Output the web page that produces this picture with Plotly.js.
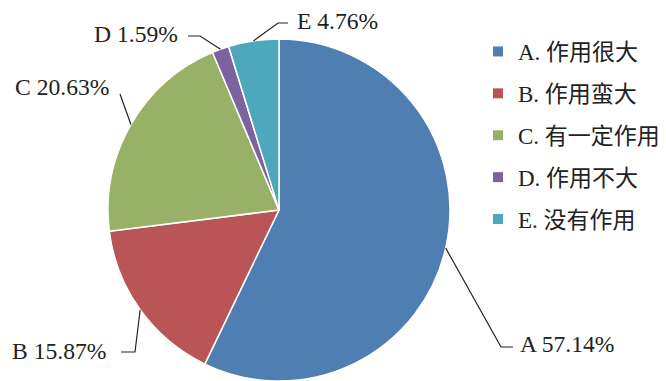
<!DOCTYPE html>
<html><head><meta charset="utf-8">
<script src="https://cdn.plot.ly/plotly-3.0.1.min.js"></script>
<style>html,body{margin:0;padding:0;background:#fff}#chart{width:666px;height:381px}</style>
</head><body><div id="chart"></div>
<script>
// ---- data ----
const categories = ['A', 'B', 'C', 'D', 'E'];
const legendLabels = ['A. 作用很大', 'B. 作用蛮大', 'C. 有一定作用', 'D. 作用不大', 'E. 没有作用'];
const percentages = [57.14, 15.87, 20.63, 1.59, 4.76];
const colors = ['#4f7eb3', '#b95556', '#97b267', '#7d62a0', '#4da8be'];

// ---- layout constants (pixels) ----
const W = 666, H = 381;
const CX = 279, CY = 210, R = 171;
const FONT = "'Liberation Serif','Times New Roman','Noto Sans CJK SC',serif";
const TXT = '#222222';
// label placement: elbow point, end of leader, text anchor
const labelLayout = {
  A: {elbow: [501, 347], end: [513, 347], text: [518, 344], anchor: 'left'},
  B: {elbow: [135, 352], end: [121, 352], text: [108, 351], anchor: 'right'},
  C: {elbow: null,       end: [120, 94],  text: [111, 87],  anchor: 'right'},
  D: {elbow: [200, 36],  end: [188, 36],  text: [180, 34],  anchor: 'right'},
  E: {elbow: [278, 23],  end: [288, 23],  text: [295, 21],  anchor: 'left'}
};

const px = x => x / W;
const py = y => 1 - y / H;

// slice mid-angles (clockwise from 12 o'clock) derived from the data
const total = percentages.reduce((a, b) => a + b, 0);
let cum = 0;
const shapes = [], annotations = [];
categories.forEach((c, i) => {
  const mid = (cum + percentages[i] / 2) / total * 2 * Math.PI;
  cum += percentages[i];
  const sx = CX + R * Math.sin(mid), sy = CY - R * Math.cos(mid);
  const L = labelLayout[c];
  let path = `M${px(sx)},${py(sy)}`;
  if (L.elbow) path += ` L${px(L.elbow[0])},${py(L.elbow[1])}`;
  path += ` L${px(L.end[0])},${py(L.end[1])}`;
  shapes.push({type: 'path', xref: 'paper', yref: 'paper', path: path,
    line: {color: TXT, width: 1.2}});
  annotations.push({xref: 'paper', yref: 'paper', x: px(L.text[0]), y: py(L.text[1]),
    xanchor: L.anchor, yanchor: 'middle', showarrow: false,
    text: `${c} ${percentages[i].toFixed(2)}%`,
    font: {family: FONT, size: 23.6, color: TXT}});
});

const pie = {
  type: 'pie',
  values: percentages,
  labels: legendLabels,
  sort: false,
  direction: 'clockwise',
  rotation: 0,
  textinfo: 'none',
  hoverinfo: 'label+percent',
  showlegend: false,
  marker: {colors: colors, line: {color: '#ffffff', width: 1.5}},
  domain: {x: [px(CX - R), px(CX + R)], y: [py(CY + R), py(CY - R)]}
};

// legend entries (one per category, coloured square)
const legendTraces = legendLabels.map((lab, i) => ({
  type: 'scatter', mode: 'markers', x: [null], y: [null],
  name: lab, legendgroup: 'g' + i, hoverinfo: 'skip',
  marker: {symbol: 'square', size: 10, color: colors[i]}
}));

const layout = {
  width: W, height: H,
  margin: {l: 0, r: 0, t: 0, b: 0},
  paper_bgcolor: '#ffffff', plot_bgcolor: '#ffffff',
  xaxis: {visible: false}, yaxis: {visible: false},
  showlegend: true,
  legend: {x: px(478), y: py(30), xanchor: 'left', yanchor: 'top',
    traceorder: 'grouped', tracegroupgap: 9,
    font: {family: FONT, size: 23, color: TXT}, bgcolor: 'rgba(0,0,0,0)'},
  shapes: shapes,
  annotations: annotations
};

Plotly.newPlot('chart', [pie].concat(legendTraces), layout, {displayModeBar: false, staticPlot: true});
</script>
</body></html>
